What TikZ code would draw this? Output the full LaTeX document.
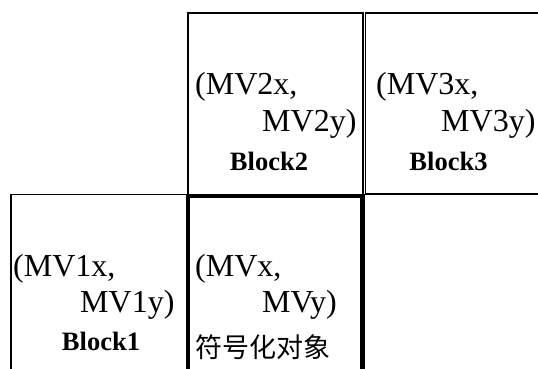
\documentclass[tikz,border=0pt]{standalone}
\usepackage{fontspec}
\setmainfont{Liberation Serif}
\newfontfamily\cjk{Noto Sans CJK SC}
\begin{document}
\begin{tikzpicture}[x=1pt,y=-1pt,
  thin box/.style={draw=black,line width=1.3pt},
  thick box/.style={draw=black,line width=4.5pt,line join=miter},
  mvtext/.style={inner sep=0pt,anchor=base west,font=\fontsize{32}{38}\selectfont},
  blocklabel/.style={inner sep=0pt,anchor=base,font=\fontsize{26.5}{32}\selectfont\bfseries},
  cjklabel/.style={inner sep=0pt,anchor=base west,font=\fontsize{27}{32}\selectfont\cjk}]
\useasboundingbox (0,0) rectangle (538,369);
\clip (0,0) rectangle (538,369);
% Block2
\draw[thin box] (188,13) rectangle (363,195);
% Block3 (open at the right)
\draw[thin box] (540,13) -- (365.5,13) -- (365.5,194) -- (540,194);
% Block1 (open at the bottom)
\draw[thin box] (11,372) -- (11,194.5) -- (190,194.5);
% current block (thick)
\draw[thick box] (188,372) -- (188,196) -- (362.5,196) -- (362.5,372);
% texts
\node[mvtext] (mv2a) at (195,94) {(MV2x,};
\node[mvtext] (mv2b) at (262,131) {MV2y)};
\node[blocklabel] (b2) at (269,170) {Block2};
\node[mvtext] (mv3a) at (376,94) {(MV3x,};
\node[mvtext] (mv3b) at (441,131) {MV3y)};
\node[blocklabel] (b3) at (448.5,170) {Block3};
\node[mvtext] (mv1a) at (13,276) {(MV1x,};
\node[mvtext] (mv1b) at (80,312) {MV1y)};
\node[blocklabel] (b1) at (101,350) {Block1};
\node[mvtext] (mva) at (195,276) {(MVx,};
\node[mvtext] (mvb) at (262,312) {MVy)};
\node[cjklabel] (cur) at (195,357) {符号化对象};
\end{tikzpicture}
\end{document}
